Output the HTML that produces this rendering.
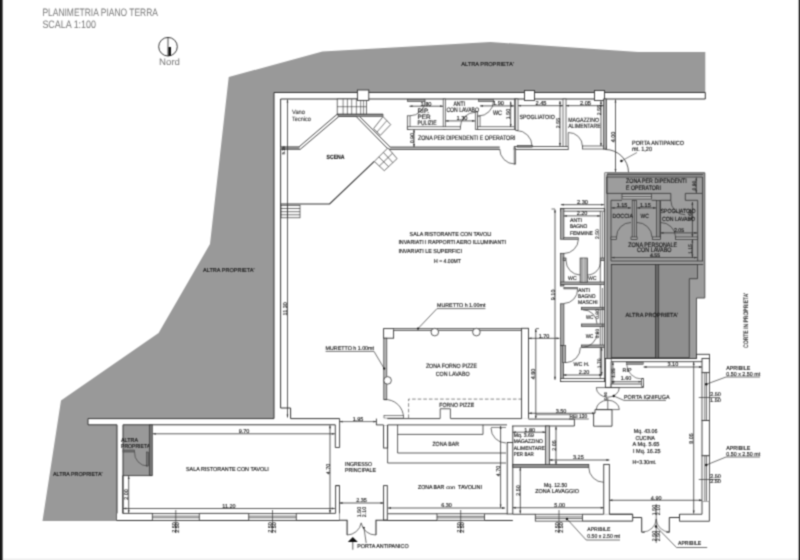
<!DOCTYPE html>
<html><head><meta charset="utf-8">
<style>
html,body{margin:0;padding:0;background:#fff;width:800px;height:560px;overflow:hidden}
svg{display:block}
text{font-family:"Liberation Sans",sans-serif;text-rendering:geometricPrecision}
</style></head><body>
<svg width="800" height="560" viewBox="0 0 800 560">
<defs><filter id="soft" filterUnits="userSpaceOnUse" x="0" y="0" width="800" height="560" color-interpolation-filters="sRGB"><feConvolveMatrix order="3" kernelMatrix="0.04 0.12 0.04 0.12 0.36 0.12 0.04 0.12 0.04" edgeMode="duplicate"/></filter></defs>
<g filter="url(#soft)">
<rect x="0" y="0" width="800" height="560" fill="#fff"/>
<rect x="2.5" y="558.6" width="797.5" height="1.4" fill="#eeeeee"/>
<rect x="0" y="0" width="2.6" height="560" fill="#161616"/>
<rect x="798.7" y="0" width="1.3" height="560" fill="#1c1c1c"/>
<text x="42.4" y="16.2" font-size="10.8" fill="#777" textLength="115.6" lengthAdjust="spacingAndGlyphs">PLANIMETRIA PIANO TERRA</text>
<text x="42.4" y="28.2" font-size="10.8" fill="#777" textLength="53.6" lengthAdjust="spacingAndGlyphs">SCALA 1:100</text>
<circle cx="168" cy="46.7" r="9.3" fill="none" stroke="#222" stroke-width="0.9"/>
<line x1="168" y1="37.4" x2="168" y2="56" stroke="#222" stroke-width="0.8"/>
<rect x="168.4" y="47" width="2.6" height="9" fill="#111"/>
<text x="159" y="64.6" font-size="9.4" fill="#777" textLength="21" lengthAdjust="spacingAndGlyphs">Nord</text>

<polygon points="228.75,77 322.5,51.6 490.5,42 638,52 705.3,52 705.3,92.5 274,92.5 274,418.6 88,418.6 88,425 117,425 117,521 42.5,521 61,400.5 158.6,333 210,244" fill="#999"/>
<rect x="123" y="424.8" width="27" height="50.5" fill="#999"/>
<g fill="#fff"><rect x="274" y="92.5" width="431.3" height="6.5"/><rect x="274" y="92.5" width="6.6" height="326.1"/><rect x="88" y="418.6" width="251.6" height="6.2"/><rect x="117" y="424" width="6" height="97"/></g>
<polyline points="274,418.6 274,92.5 705.3,92.5 705.3,99 606,99" fill="none" stroke="#333" stroke-width="1"/>
<polyline points="280.6,408 280.6,99 606,99" fill="none" stroke="#333" stroke-width="1"/>
<polyline points="280.6,408 290.6,408 290.6,418.6 339.6,418.6" fill="none" stroke="#333" stroke-width="1"/>
<polyline points="274,418.6 88,418.6 88,424.8 117,424.8 117,521" fill="none" stroke="#333" stroke-width="1"/>
<polyline points="123,521 123,424.8 335.3,424.8" fill="none" stroke="#333" stroke-width="1"/>
<rect x="337.2" y="99" width="29.2" height="15.3" fill="#fff" stroke="#333" stroke-width="0.7"/>
<path d="M343.1 99V114.3M347.4 99V114.3M351.7 99V114.3M356.4 99V114.3M360.7 99V114.3M363.6 99V114.3M337.2 106.7H366.4" fill="none" stroke="#333" stroke-width="0.6" />
<rect x="389.5" y="147.1" width="110.2" height="2.3" fill="#cfcfcf"/>
<path d="M280.6 146.9H299L337.2 114.2H383" fill="none" stroke="#333" stroke-width="0.9" />
<path d="M280.6 149.4H300.2L338.8 116.5H357" fill="none" stroke="#333" stroke-width="0.9" />
<path d="M359.6 116.5L390.2 147.1H499.7" fill="none" stroke="#333" stroke-width="0.9" />
<path d="M356.2 116.5L388.4 149.4H499.7" fill="none" stroke="#333" stroke-width="0.9" />
<rect x="280.6" y="146.8" width="18.9" height="2.7" fill="#8a8a8a"/>
<path d="M280.6 204H329.6L374.3 161.4" fill="none" stroke="#333" stroke-width="1.1" />
<rect x="338" y="114.3" width="45" height="2.2" fill="#999" stroke="#333" stroke-width="0.6"/>
<polygon points="383,116.6 390.7,124.6 380.3,135.4 373.6,128.6" fill="#fff" stroke="#333" stroke-width="0.7"/>
<path d="M377 132L386.8 120.6" fill="none" stroke="#333" stroke-width="0.6" />
<polygon points="387.9,147.9 397.1,158.6 384.3,170.7 374.3,161.4" fill="#fff" stroke="#333" stroke-width="0.7"/>
<path d="M378.8 156.9L388.6 166.7M383.4 152.4L392.8 162.6M392.5 153.25L379.3 166.05" fill="none" stroke="#333" stroke-width="0.7" />
<rect x="281" y="205.3" width="19" height="12.5" fill="#fff" stroke="#333" stroke-width="0.7"/>
<path d="M281 208.5H300M281 211.7H300M281 214.8H300M287.5 205.3V217.8" fill="none" stroke="#333" stroke-width="0.7" />
<rect x="357.4" y="90" width="11.4" height="10.4" fill="#fff" stroke="#333" stroke-width="0.9"/>
<rect x="524.5" y="90.5" width="10" height="10" fill="#fff" stroke="#333" stroke-width="0.9"/>
<rect x="594.5" y="90.5" width="10" height="10" fill="#fff" stroke="#333" stroke-width="0.9"/>
<line x1="287.5" y1="99.5" x2="287.5" y2="417.5" stroke="#333" stroke-width="0.8" />
<path d="M287.5 99.5l-0.9 3h1.8z M287.5 417.5l-0.9 -3h1.8z" fill="#333"/>
<text x="292" y="114.2" font-size="6.16" fill="#444" stroke="#444" stroke-width="0.14" textLength="13" lengthAdjust="spacingAndGlyphs">Vano</text>
<text x="292" y="120.6" font-size="6.16" fill="#444" stroke="#444" stroke-width="0.14" textLength="18.9" lengthAdjust="spacingAndGlyphs">Tecnico</text>
<text x="284.6" y="150.5" font-size="4.18" fill="#151515" stroke="#151515" stroke-width="0.14" text-anchor="middle" transform="rotate(-90 284.6 150.5)">5.15</text>
<text x="326.5" y="158.6" font-size="6.16" fill="#151515" stroke="#151515" stroke-width="0.14" textLength="18" lengthAdjust="spacingAndGlyphs" font-weight="bold">SCENA</text>
<rect x="407.3" y="99.3" width="17.7" height="2.3" fill="#aaa" stroke="#333" stroke-width="0.6"/>
<rect x="407.3" y="115.8" width="2.7" height="13.7" fill="#fff" stroke="#333" stroke-width="0.7"/>
<rect x="443.2" y="99" width="2.1" height="30.5" fill="#fff" stroke="#333" stroke-width="0.7"/>
<rect x="407.3" y="126.8" width="53" height="2.7" fill="#fff" stroke="#333" stroke-width="0.7"/>
<rect x="475.3" y="111.8" width="2.2" height="17.7" fill="#fff" stroke="#333" stroke-width="0.7"/>
<rect x="477.5" y="116" width="2.5" height="13.5" fill="#fff" stroke="#333" stroke-width="0.7"/>
<rect x="478.5" y="99.3" width="15" height="2.3" fill="#aaa" stroke="#333" stroke-width="0.6"/>
<rect x="477.5" y="126.8" width="38.7" height="2.7" fill="#fff" stroke="#333" stroke-width="0.7"/>
<rect x="514.4" y="99" width="1.8" height="30.5" fill="#fff" stroke="#333" stroke-width="0.7"/>
<rect x="515.7" y="99" width="2.3" height="31.5" fill="#fff" stroke="#333" stroke-width="0.7"/>
<rect x="563" y="99" width="3" height="50" fill="#fff" stroke="#333" stroke-width="0.7"/>
<rect x="514.2" y="146.6" width="54" height="3" fill="#fff" stroke="#333" stroke-width="0.8"/>
<rect x="517.2" y="145.3" width="15" height="1.9" fill="#777" stroke="#333" stroke-width="0.5"/>
<rect x="514.2" y="148" width="1.5" height="16" fill="#fff" stroke="#333" stroke-width="0.7"/>
<rect x="582.5" y="146" width="24" height="3" fill="#fff" stroke="#333" stroke-width="0.7"/>
<rect x="603.5" y="99" width="3" height="50" fill="#aaa" stroke="#333" stroke-width="0.7"/>
<path d="M410 115.8A15 15 0 0 0 425 100.8" fill="none" stroke="#333" stroke-width="0.7" />
<path d="M478.5 116A15 15 0 0 0 493.5 101" fill="none" stroke="#333" stroke-width="0.7" />
<path d="M460.3 127.3A15 15 0 0 1 475.3 112.3" fill="none" stroke="#333" stroke-width="0.7" />
<path d="M499.7 149A15 15 0 0 0 514.7 164" fill="none" stroke="#333" stroke-width="0.7" />
<path d="M516.5 130.5A15.5 15.5 0 0 1 532 146" fill="none" stroke="#333" stroke-width="0.7" />
<line x1="568.2" y1="132.7" x2="568.2" y2="146" stroke="#333" stroke-width="0.7" />
<path d="M568.2 132.5A14 14 0 0 1 582.5 146.5" fill="none" stroke="#333" stroke-width="0.7" />
<path d="M605.5 149.5A23 23 0 0 1 628.5 172.2" fill="none" stroke="#333" stroke-width="0.8" />
<line x1="409.5" y1="106.2" x2="443" y2="106.2" stroke="#333" stroke-width="0.8" />
<path d="M409.5 106.2l3 -0.9v1.8z M443 106.2l-3 -0.9v1.8z" fill="#333"/>
<text x="426" y="105.5" font-size="5.72" fill="#151515" stroke="#151515" stroke-width="0.14" text-anchor="middle">1.80</text>
<line x1="414" y1="129.5" x2="414" y2="147" stroke="#333" stroke-width="0.8" />
<path d="M414 129.5l-0.9 3h1.8z M414 147l-0.9 -3h1.8z" fill="#333"/>
<text x="413.6" y="138.2" font-size="5.28" fill="#151515" stroke="#151515" stroke-width="0.14" text-anchor="middle" transform="rotate(-90 413.6 138.2)">0.90</text>
<line x1="445.5" y1="120.9" x2="475" y2="120.9" stroke="#333" stroke-width="0.8" />
<path d="M445.5 120.9l3 -0.9v1.8z M475 120.9l-3 -0.9v1.8z" fill="#333"/>
<text x="462" y="120.2" font-size="5.72" fill="#151515" stroke="#151515" stroke-width="0.14" text-anchor="middle">1.30</text>
<line x1="480" y1="105.9" x2="514" y2="105.9" stroke="#333" stroke-width="0.8" />
<path d="M480 105.9l3 -0.9v1.8z M514 105.9l-3 -0.9v1.8z" fill="#333"/>
<text x="498.5" y="105.2" font-size="5.72" fill="#151515" stroke="#151515" stroke-width="0.14" text-anchor="middle">1.90</text>
<line x1="510.7" y1="101.5" x2="510.7" y2="127" stroke="#333" stroke-width="0.8" />
<path d="M510.7 101.5l-0.9 3h1.8z M510.7 127l-0.9 -3h1.8z" fill="#333"/>
<text x="510.3" y="114" font-size="5.28" fill="#151515" stroke="#151515" stroke-width="0.14" text-anchor="middle" transform="rotate(-90 510.3 114)">1.50</text>
<line x1="518" y1="105.7" x2="563" y2="105.7" stroke="#333" stroke-width="0.8" />
<path d="M518 105.7l3 -0.9v1.8z M563 105.7l-3 -0.9v1.8z" fill="#333"/>
<text x="541" y="105.0" font-size="5.72" fill="#151515" stroke="#151515" stroke-width="0.14" text-anchor="middle">2.45</text>
<line x1="560" y1="101" x2="560" y2="146" stroke="#333" stroke-width="0.8" />
<path d="M560 101l-0.9 3h1.8z M560 146l-0.9 -3h1.8z" fill="#333"/>
<text x="559.6" y="123" font-size="5.28" fill="#151515" stroke="#151515" stroke-width="0.14" text-anchor="middle" transform="rotate(-90 559.6 123)">2.55</text>
<line x1="566" y1="105.7" x2="603.5" y2="105.7" stroke="#333" stroke-width="0.8" />
<path d="M566 105.7l3 -0.9v1.8z M603.5 105.7l-3 -0.9v1.8z" fill="#333"/>
<text x="585.5" y="105.0" font-size="5.72" fill="#151515" stroke="#151515" stroke-width="0.14" text-anchor="middle">2.05</text>
<line x1="601" y1="101" x2="601" y2="146" stroke="#333" stroke-width="0.8" />
<path d="M601 101l-0.9 3h1.8z M601 146l-0.9 -3h1.8z" fill="#333"/>
<text x="600.6" y="110" font-size="5.28" fill="#151515" stroke="#151515" stroke-width="0.14" text-anchor="middle" transform="rotate(-90 600.6 110)">2.55</text>
<line x1="615.5" y1="99.5" x2="615.5" y2="172" stroke="#333" stroke-width="0.8" />
<path d="M615.5 99.5l-0.9 3h1.8z M615.5 172l-0.9 -3h1.8z" fill="#333"/>
<text x="615.1" y="137" font-size="5.5" fill="#151515" stroke="#151515" stroke-width="0.14" text-anchor="middle" transform="rotate(-90 615.1 137)">4.00</text>
<text x="417.5" y="112.6" font-size="6.38" fill="#151515" stroke="#151515" stroke-width="0.14">RIP.</text>
<text x="417.5" y="118.8" font-size="6.38" fill="#151515" stroke="#151515" stroke-width="0.14">PER</text>
<text x="417.5" y="124.7" font-size="6.38" fill="#151515" stroke="#151515" stroke-width="0.14" textLength="19.2" lengthAdjust="spacingAndGlyphs">PULIZIE</text>
<text x="453.4" y="105.7" font-size="6.38" fill="#151515" stroke="#151515" stroke-width="0.14" textLength="11.8" lengthAdjust="spacingAndGlyphs">ANTI</text>
<text x="446.4" y="111.8" font-size="6.38" fill="#151515" stroke="#151515" stroke-width="0.14" textLength="32.6" lengthAdjust="spacingAndGlyphs">CON LAVABO</text>
<text x="493" y="115.3" font-size="6.38" fill="#151515" stroke="#151515" stroke-width="0.14" textLength="9" lengthAdjust="spacingAndGlyphs">WC</text>
<text x="418" y="140.2" font-size="6.49" fill="#151515" stroke="#151515" stroke-width="0.14" textLength="97.5" lengthAdjust="spacingAndGlyphs">ZONA PER DIPENDENTI E OPERATORI</text>
<text x="519.5" y="119.2" font-size="6.16" fill="#151515" stroke="#151515" stroke-width="0.14" textLength="35.2" lengthAdjust="spacingAndGlyphs">SPOGLIATOIO</text>
<text x="568.2" y="121.8" font-size="6.16" fill="#151515" stroke="#151515" stroke-width="0.14" textLength="30.8" lengthAdjust="spacingAndGlyphs">MAGAZZINO</text>
<text x="568.2" y="128.2" font-size="6.16" fill="#151515" stroke="#151515" stroke-width="0.14" textLength="32.5" lengthAdjust="spacingAndGlyphs">ALIMENTARE</text>
<text x="632" y="144.5" font-size="6.16" fill="#151515" stroke="#151515" stroke-width="0.14" textLength="52" lengthAdjust="spacingAndGlyphs">PORTA ANTIPANICO</text>
<text x="632" y="151" font-size="6.16" fill="#151515" stroke="#151515" stroke-width="0.14" textLength="20" lengthAdjust="spacingAndGlyphs">mt. 1,20</text>
<line x1="637" y1="152.5" x2="621.4" y2="161" stroke="#333" stroke-width="0.6" />
<circle cx="621.4" cy="161" r="1.2" fill="#111"/>
<polygon points="604.8,172.8 704.8,172.8 704.8,298 696.5,298 696.5,358.5 604.8,358.5" fill="#9d9d9d" stroke="#444" stroke-width="0.9"/>
<rect x="604.8" y="172.8" width="2.2" height="185.7" fill="#d2d2d2"/>
<line x1="607" y1="174.6" x2="607" y2="358.5" stroke="#333" stroke-width="0.8" />
<line x1="607" y1="174.6" x2="703" y2="174.6" stroke="#333" stroke-width="0.8" />
<polyline points="670.8,193.4 606.6,193.4 606.6,177 702.5,177 702.5,193.4 685.3,193.4" fill="none" stroke="#333" stroke-width="0.8"/>
<rect x="622" y="194" width="29.6" height="5" fill="#bbb" stroke="#333" stroke-width="0.7"/>
<line x1="622" y1="196.5" x2="651.6" y2="196.5" stroke="#333" stroke-width="0.7" />
<polyline points="670.8,193.4 670.8,200.3 660.5,200.3 660.5,239" fill="none" stroke="#333" stroke-width="0.8"/>
<polyline points="622,200.3 611,200.3 611,261" fill="none" stroke="#333" stroke-width="0.8"/>
<line x1="651.6" y1="200.3" x2="656" y2="200.3" stroke="#333" stroke-width="0.8" />
<polyline points="685.3,193.4 685.3,200.3 697.7,200.3 697.7,261" fill="none" stroke="#333" stroke-width="0.8"/>
<polyline points="702.5,193.4 702.5,261" fill="none" stroke="#333" stroke-width="0.8"/>
<rect x="632.2" y="200.3" width="4.4" height="38.7" fill="#a4a4a4" stroke="#333" stroke-width="0.7"/>
<line x1="634.4" y1="200.3" x2="634.4" y2="239" stroke="#333" stroke-width="0.7" />
<rect x="656.4" y="200.3" width="3.5" height="38.7" fill="#a4a4a4" stroke="#333" stroke-width="0.7"/>
<line x1="658.1" y1="200.3" x2="658.1" y2="239" stroke="#333" stroke-width="0.4" />
<rect x="611" y="237" width="5.5" height="2.5" fill="#aaa" stroke="#333" stroke-width="0.7"/>
<rect x="631" y="237" width="6.100000000000023" height="2.5" fill="#aaa" stroke="#333" stroke-width="0.7"/>
<rect x="652.3" y="237" width="8.200000000000045" height="2.5" fill="#aaa" stroke="#333" stroke-width="0.7"/>
<rect x="675.6" y="237" width="22.100000000000023" height="2.5" fill="#aaa" stroke="#333" stroke-width="0.7"/>
<path d="M616.5 237A14.5 14.5 0 0 1 631 222.5" fill="none" stroke="#333" stroke-width="0.7" />
<path d="M637 222.5A15 15 0 0 1 652 237" fill="none" stroke="#333" stroke-width="0.7" />
<path d="M660.5 222.5A15 15 0 0 1 675.6 237" fill="none" stroke="#333" stroke-width="0.7" />
<path d="M670.8 200.3A14.5 14.5 0 0 0 685.3 214.8" fill="none" stroke="#333" stroke-width="0.7" />
<line x1="611" y1="261" x2="703.2" y2="261" stroke="#333" stroke-width="0.8" />
<line x1="611" y1="264.5" x2="703.2" y2="264.5" stroke="#333" stroke-width="0.8" />
<line x1="611.5" y1="257.6" x2="697.2" y2="257.6" stroke="#333" stroke-width="0.8" />
<path d="M611.5 257.6l3 -0.9v1.8z M697.2 257.6l-3 -0.9v1.8z" fill="#333"/>
<text x="655" y="256.9" font-size="5.28" fill="#151515" stroke="#151515" stroke-width="0.14" text-anchor="middle">4.55</text>
<line x1="692.4" y1="239.5" x2="692.4" y2="257.6" stroke="#333" stroke-width="0.8" />
<path d="M692.4 239.5l-0.9 3h1.8z M692.4 257.6l-0.9 -3h1.8z" fill="#333"/>
<text x="692.0" y="249" font-size="5.06" fill="#151515" stroke="#151515" stroke-width="0.14" text-anchor="middle" transform="rotate(-90 692.0 249)">1.15</text>
<line x1="660.5" y1="232.9" x2="697.2" y2="232.9" stroke="#333" stroke-width="0.8" />
<path d="M660.5 232.9l3 -0.9v1.8z M697.2 232.9l-3 -0.9v1.8z" fill="#333"/>
<text x="679" y="232.2" font-size="5.28" fill="#151515" stroke="#151515" stroke-width="0.14" text-anchor="middle">2.05</text>
<line x1="611.5" y1="207.9" x2="631" y2="207.9" stroke="#333" stroke-width="0.8" />
<path d="M611.5 207.9l3 -0.9v1.8z M631 207.9l-3 -0.9v1.8z" fill="#333"/>
<text x="622" y="207.2" font-size="5.5" fill="#151515" stroke="#151515" stroke-width="0.14" text-anchor="middle">1.15</text>
<line x1="637.1" y1="207.9" x2="656" y2="207.9" stroke="#333" stroke-width="0.8" />
<path d="M637.1 207.9l3 -0.9v1.8z M656 207.9l-3 -0.9v1.8z" fill="#333"/>
<text x="645.4" y="207.2" font-size="5.5" fill="#151515" stroke="#151515" stroke-width="0.14" text-anchor="middle">1.15</text>
<line x1="696.3" y1="177.5" x2="696.3" y2="193" stroke="#333" stroke-width="0.8" />
<path d="M696.3 177.5l-0.9 3h1.8z M696.3 193l-0.9 -3h1.8z" fill="#333"/>
<text x="695.9" y="185.5" font-size="5.06" fill="#151515" stroke="#151515" stroke-width="0.14" text-anchor="middle" transform="rotate(-90 695.9 185.5)">0.90</text>
<line x1="692.4" y1="202" x2="692.4" y2="237" stroke="#333" stroke-width="0.8" />
<path d="M692.4 202l-0.9 3h1.8z M692.4 237l-0.9 -3h1.8z" fill="#333"/>
<text x="692.0" y="215" font-size="5.06" fill="#151515" stroke="#151515" stroke-width="0.14" text-anchor="middle" transform="rotate(-90 692.0 215)">1.60</text>
<rect x="611.3" y="264.5" width="44.4" height="93.2" fill="#8f8f8f" stroke="#333" stroke-width="0.8"/>
<polygon points="658.5,264.5 697.5,264.5 697.5,278.7 689.3,278.7 689.3,357.7 658.5,357.7" fill="#8f8f8f" stroke="#333" stroke-width="0.8"/>
<rect x="655.4" y="264.5" width="3.4" height="93.2" fill="#6a6a6a" stroke="#333" stroke-width="0.6"/>
<text x="626" y="183.4" font-size="6.38" fill="#151515" stroke="#151515" stroke-width="0.14" textLength="60.7" lengthAdjust="spacingAndGlyphs">ZONA PER DIPENDENTI</text>
<text x="626" y="190" font-size="6.38" fill="#151515" stroke="#151515" stroke-width="0.14" textLength="35" lengthAdjust="spacingAndGlyphs">E OPERATORI</text>
<text x="612.4" y="218.2" font-size="5.94" fill="#151515" stroke="#151515" stroke-width="0.14" textLength="20.6" lengthAdjust="spacingAndGlyphs">DOCCIA</text>
<text x="640.6" y="218" font-size="5.94" fill="#151515" stroke="#151515" stroke-width="0.14" textLength="8.2" lengthAdjust="spacingAndGlyphs">WC</text>
<text x="660.5" y="213.4" font-size="5.94" fill="#151515" stroke="#151515" stroke-width="0.14" textLength="35" lengthAdjust="spacingAndGlyphs">SPOGLIATOIO</text>
<text x="662" y="220.5" font-size="5.94" fill="#151515" stroke="#151515" stroke-width="0.14" textLength="33" lengthAdjust="spacingAndGlyphs">CON LAVABO</text>
<text x="628.2" y="246.9" font-size="6.38" fill="#151515" stroke="#151515" stroke-width="0.14" textLength="48.8" lengthAdjust="spacingAndGlyphs">ZONA PERSONALE</text>
<text x="637.1" y="252.4" font-size="6.38" fill="#151515" stroke="#151515" stroke-width="0.14" textLength="34.4" lengthAdjust="spacingAndGlyphs">CON LAVABO</text>
<text x="625.6" y="317" font-size="5.94" fill="#151515" stroke="#151515" stroke-width="0.14" textLength="52.4" lengthAdjust="spacingAndGlyphs">ALTRA  PROPRIETA'</text>
<text x="461.25" y="65.75" font-size="5.72" fill="#151515" stroke="#151515" stroke-width="0.14" textLength="52.5" lengthAdjust="spacingAndGlyphs">ALTRA  PROPRIETA'</text>
<text x="203" y="271.75" font-size="5.72" fill="#151515" stroke="#151515" stroke-width="0.14" textLength="51.5" lengthAdjust="spacingAndGlyphs">ALTRA  PROPRIETA'</text>
<text x="53" y="475.5" font-size="5.72" fill="#151515" stroke="#151515" stroke-width="0.14" textLength="49.5" lengthAdjust="spacingAndGlyphs">ALTRA  PROPRIETA'</text>
<text x="121" y="441.5" font-size="5.72" fill="#151515" stroke="#151515" stroke-width="0.14" textLength="17" lengthAdjust="spacingAndGlyphs">ALTRA</text>
<text x="121" y="447.75" font-size="5.72" fill="#151515" stroke="#151515" stroke-width="0.14" textLength="30" lengthAdjust="spacingAndGlyphs">PROPRIETA'</text>
<text x="409.6" y="235.6" font-size="5.72" fill="#151515" stroke="#151515" stroke-width="0.14" textLength="82" lengthAdjust="spacingAndGlyphs">SALA RISTORANTE CON TAVOLI</text>
<text x="398.4" y="244.2" font-size="5.72" fill="#151515" stroke="#151515" stroke-width="0.14" textLength="107.6" lengthAdjust="spacingAndGlyphs">INVARIATI I RAPPORTI AERO ILLUMINANTI</text>
<text x="398.4" y="253.2" font-size="5.72" fill="#151515" stroke="#151515" stroke-width="0.14" textLength="63.6" lengthAdjust="spacingAndGlyphs">INVARIATI LE SUPERFICI</text>
<text x="434" y="262.8" font-size="5.72" fill="#151515" stroke="#151515" stroke-width="0.14" textLength="27" lengthAdjust="spacingAndGlyphs">H = 4.00MT</text>
<text x="287.1" y="308.75" font-size="5.5" fill="#151515" stroke="#151515" stroke-width="0.14" text-anchor="middle" transform="rotate(-90 287.1 308.75)">11.30</text>
<rect x="383.6" y="328.6" width="10" height="9.6" fill="#fff" stroke="#333" stroke-width="0.9"/>
<path d="M393.6 329.5H522" fill="none" stroke="#333" stroke-width="2.4" stroke-linejoin="miter" stroke-linecap="butt"/>
<path d="M393.6 329.5H522" fill="none" stroke="#fff" stroke-width="0.8" stroke-linejoin="miter" stroke-linecap="butt"/>
<rect x="383.8" y="338.2" width="3" height="61.5" fill="#bbb" stroke="#333" stroke-width="0.7"/>
<circle cx="434.8" cy="332.1" r="3.8" fill="#fff" stroke="#333" stroke-width="0.8"/>
<circle cx="476.4" cy="332.1" r="3.8" fill="#fff" stroke="#333" stroke-width="0.8"/>
<circle cx="387.6" cy="380.4" r="3.8" fill="#fff" stroke="#333" stroke-width="0.8"/>
<rect x="521.6" y="328.3" width="6.9" height="91" fill="#fff" stroke="#333" stroke-width="0.9"/>
<path d="M384 399.6A18 18 0 0 1 403.5 417.5" fill="none" stroke="#333" stroke-width="0.7" />
<rect x="384" y="415.5" width="19.5" height="2.6" fill="#fff" stroke="#333" stroke-width="0.6"/>
<path d="M408.6 418V399.1H522" fill="none" stroke="#333" stroke-width="0.6" stroke-dasharray="3.6 2"/>
<path d="M440.2 418.6V408.75H450.4V418.6" fill="none" stroke="#333" stroke-width="0.8" />
<text x="439.3" y="406.6" font-size="5.94" fill="#151515" stroke="#151515" stroke-width="0.14" textLength="34.8" lengthAdjust="spacingAndGlyphs">FORNO PIZZE</text>
<text x="425.9" y="368.2" font-size="6.05" fill="#151515" stroke="#151515" stroke-width="0.14" textLength="51.2" lengthAdjust="spacingAndGlyphs">ZONA FORNO PIZZE</text>
<text x="435.7" y="376.25" font-size="6.05" fill="#151515" stroke="#151515" stroke-width="0.14" textLength="33.9" lengthAdjust="spacingAndGlyphs">CON LAVABO</text>
<text x="325.6" y="350.2" font-size="5.5" fill="#151515" stroke="#151515" stroke-width="0.14" textLength="48.4" lengthAdjust="spacingAndGlyphs">MURETTO h 1.00mt</text>
<line x1="325.6" y1="351.4" x2="374" y2="351.4" stroke="#333" stroke-width="0.7" />
<line x1="374" y1="351.4" x2="384.2" y2="368.6" stroke="#333" stroke-width="0.7" />
<circle cx="384.2" cy="368.6" r="1.1" fill="#111"/>
<text x="437" y="307.4" font-size="5.5" fill="#151515" stroke="#151515" stroke-width="0.14" textLength="48.4" lengthAdjust="spacingAndGlyphs">MURETTO h 1.00mt</text>
<line x1="437" y1="308.6" x2="485.4" y2="308.6" stroke="#333" stroke-width="0.7" />
<line x1="437" y1="308.6" x2="418" y2="328.6" stroke="#333" stroke-width="0.7" />
<circle cx="418" cy="328.6" r="1.1" fill="#111"/>
<line x1="535.8" y1="329" x2="535.8" y2="418.8" stroke="#333" stroke-width="0.8" />
<path d="M535.8 329l-0.9 3h1.8z M535.8 418.8l-0.9 -3h1.8z" fill="#333"/>
<text x="535.4" y="374" font-size="5.5" fill="#151515" stroke="#151515" stroke-width="0.14" text-anchor="middle" transform="rotate(-90 535.4 374)">4.80</text>
<line x1="535.8" y1="328.6" x2="539" y2="328.6" stroke="#333" stroke-width="0.7" />
<line x1="528.5" y1="338.3" x2="559.5" y2="338.3" stroke="#333" stroke-width="0.8" />
<path d="M528.5 338.3l3 -0.9v1.8z M559.5 338.3l-3 -0.9v1.8z" fill="#333"/>
<text x="544" y="337.6" font-size="5.5" fill="#151515" stroke="#151515" stroke-width="0.14" text-anchor="middle">1.70</text>
<line x1="555" y1="209.5" x2="555" y2="379.8" stroke="#333" stroke-width="0.8" />
<path d="M555 209.5l-0.9 3h1.8z M555 379.8l-0.9 -3h1.8z" fill="#333"/>
<text x="554.6" y="294.9" font-size="5.5" fill="#151515" stroke="#151515" stroke-width="0.14" text-anchor="middle" transform="rotate(-90 554.6 294.9)">9.10</text>
<line x1="551.5" y1="209" x2="555" y2="209" stroke="#333" stroke-width="0.7" />
<line x1="560.9" y1="204.7" x2="604.1" y2="204.7" stroke="#333" stroke-width="0.8" />
<path d="M560.9 204.7l3 -0.9v1.8z M604.1 204.7l-3 -0.9v1.8z" fill="#333"/>
<text x="582.5" y="204.0" font-size="5.72" fill="#151515" stroke="#151515" stroke-width="0.14" text-anchor="middle">2.30</text>
<rect x="560.4" y="208.6" width="44.2" height="2.5" fill="#fff" stroke="#333" stroke-width="0.8"/>
<rect x="560.6" y="208.6" width="3.3" height="30.599999999999994" fill="#aaa" stroke="#333" stroke-width="0.7"/>
<rect x="560.6" y="253.3" width="3.3" height="32.69999999999999" fill="#aaa" stroke="#333" stroke-width="0.7"/>
<rect x="560.6" y="303.8" width="3.3" height="41.69999999999999" fill="#aaa" stroke="#333" stroke-width="0.7"/>
<rect x="560.6" y="345.5" width="3" height="36" fill="#aaa" stroke="#333" stroke-width="0.7"/>
<rect x="562.7" y="345.6" width="3" height="17.1" fill="#aaa" stroke="#333" stroke-width="0.6"/>
<line x1="600.3" y1="211.1" x2="600.3" y2="381.6" stroke="#333" stroke-width="0.7" />
<line x1="604.6" y1="208.6" x2="604.6" y2="381.6" stroke="#333" stroke-width="0.8" />
<rect x="563.9" y="237.7" width="14.5" height="1.7" fill="#aaa" stroke="#333" stroke-width="0.6"/>
<rect x="560.7" y="282" width="43.9" height="2.6" fill="#aaa" stroke="#333" stroke-width="0.7"/>
<rect x="563.9" y="287.6" width="13.7" height="1.3" fill="#aaa" stroke="#333" stroke-width="0.6"/>
<rect x="580.1" y="258" width="7.3" height="24.2" fill="#aaa" stroke="#333" stroke-width="0.7"/>
<line x1="583.7" y1="258" x2="583.7" y2="282" stroke="#eee" stroke-width="0.5" />
<rect x="563.2" y="258" width="2.8" height="2.6" fill="#aaa" stroke="#333" stroke-width="0.7"/>
<rect x="600.3" y="258" width="4.3" height="2.6" fill="#aaa" stroke="#333" stroke-width="0.7"/>
<rect x="581.4" y="307.3" width="23.2" height="2.4" fill="#aaa" stroke="#333" stroke-width="0.7"/>
<rect x="581.4" y="324" width="23.2" height="2.4" fill="#aaa" stroke="#333" stroke-width="0.7"/>
<rect x="581.4" y="345" width="23.2" height="2.4" fill="#aaa" stroke="#333" stroke-width="0.7"/>
<rect x="560.4" y="378.6" width="44.2" height="3" fill="#fff" stroke="#333" stroke-width="0.8"/>
<path d="M578.4 239.4A14.5 14.5 0 0 1 563.9 253.5" fill="none" stroke="#333" stroke-width="0.7" />
<path d="M566 260.6A14.4 14.4 0 0 0 580.1 275" fill="none" stroke="#333" stroke-width="0.7" />
<path d="M600.3 260.6A13 13 0 0 1 587.4 275" fill="none" stroke="#333" stroke-width="0.7" />
<path d="M577.6 288.9A14 14 0 0 1 563.9 303.5" fill="none" stroke="#333" stroke-width="0.7" />
<path d="M583 309.8A14 14 0 0 1 597 323.8" fill="none" stroke="#333" stroke-width="0.7" />
<path d="M582.2 347.4A15 15 0 0 0 597.2 333" fill="none" stroke="#333" stroke-width="0.7" />
<path d="M565.7 362.7A15 15 0 0 0 580.4 347.4" fill="none" stroke="#333" stroke-width="0.7" />
<line x1="563.9" y1="215.9" x2="600.3" y2="215.9" stroke="#333" stroke-width="0.8" />
<path d="M563.9 215.9l3 -0.9v1.8z M600.3 215.9l-3 -0.9v1.8z" fill="#333"/>
<text x="582" y="215.2" font-size="5.5" fill="#151515" stroke="#151515" stroke-width="0.14" text-anchor="middle">2.20</text>
<text x="598.6" y="234" font-size="5.06" fill="#151515" stroke="#151515" stroke-width="0.14" text-anchor="middle" transform="rotate(-90 598.6 234)">2.50</text>
<line x1="602.4" y1="212" x2="602.4" y2="258" stroke="#333" stroke-width="0.7" />
<line x1="563.3" y1="375" x2="602.2" y2="375" stroke="#333" stroke-width="0.8" />
<path d="M563.3 375l3 -0.9v1.8z M602.2 375l-3 -0.9v1.8z" fill="#333"/>
<text x="584" y="374.3" font-size="5.5" fill="#151515" stroke="#151515" stroke-width="0.14" text-anchor="middle">2.20</text>
<line x1="601.7" y1="347.4" x2="601.7" y2="375" stroke="#333" stroke-width="0.8" />
<path d="M601.7 347.4l-0.9 3h1.8z M601.7 375l-0.9 -3h1.8z" fill="#333"/>
<text x="601.3" y="363.3" font-size="5.06" fill="#151515" stroke="#151515" stroke-width="0.14" text-anchor="middle" transform="rotate(-90 601.3 363.3)">1.70</text>
<line x1="602.4" y1="288" x2="602.4" y2="345" stroke="#333" stroke-width="0.7" />
<text x="569.9" y="221.9" font-size="5.5" fill="#151515" stroke="#151515" stroke-width="0.14" textLength="12" lengthAdjust="spacingAndGlyphs">ANTI</text>
<text x="569.9" y="228.3" font-size="5.5" fill="#151515" stroke="#151515" stroke-width="0.14" textLength="17.5" lengthAdjust="spacingAndGlyphs">BAGNO</text>
<text x="569.9" y="234.7" font-size="5.5" fill="#151515" stroke="#151515" stroke-width="0.14" textLength="23" lengthAdjust="spacingAndGlyphs">FEMMINE</text>
<text x="568.1" y="280.3" font-size="5.5" fill="#151515" stroke="#151515" stroke-width="0.14" textLength="8.6" lengthAdjust="spacingAndGlyphs">WC</text>
<text x="588.3" y="280.3" font-size="5.5" fill="#151515" stroke="#151515" stroke-width="0.14" textLength="8.1" lengthAdjust="spacingAndGlyphs">WC</text>
<text x="578" y="291.6" font-size="5.5" fill="#151515" stroke="#151515" stroke-width="0.14" textLength="12" lengthAdjust="spacingAndGlyphs">ANTI</text>
<text x="578" y="297.9" font-size="5.5" fill="#151515" stroke="#151515" stroke-width="0.14" textLength="17.5" lengthAdjust="spacingAndGlyphs">BAGNO</text>
<text x="578" y="303.9" font-size="5.5" fill="#151515" stroke="#151515" stroke-width="0.14" textLength="19.7" lengthAdjust="spacingAndGlyphs">MASCHI</text>
<text x="586.1" y="319.3" font-size="5.5" fill="#151515" stroke="#151515" stroke-width="0.14" textLength="7.3" lengthAdjust="spacingAndGlyphs">WC</text>
<text x="585.7" y="337.9" font-size="5.5" fill="#151515" stroke="#151515" stroke-width="0.14" textLength="7.5" lengthAdjust="spacingAndGlyphs">WC</text>
<text x="573.4" y="366.2" font-size="5.5" fill="#151515" stroke="#151515" stroke-width="0.14" textLength="15.9" lengthAdjust="spacingAndGlyphs">WC  H.</text>
<text x="599.3" y="314" font-size="4.84" fill="#151515" stroke="#151515" stroke-width="0.14" text-anchor="middle" transform="rotate(-90 599.3 314)">0.80</text>
<text x="599.3" y="333.5" font-size="4.84" fill="#151515" stroke="#151515" stroke-width="0.14" text-anchor="middle" transform="rotate(-90 599.3 333.5)">0.80</text>
<rect x="117" y="513.4" width="223" height="7.1" fill="#fff"/>
<line x1="117" y1="520.5" x2="340" y2="520.5" stroke="#333" stroke-width="1" />
<line x1="122.8" y1="475.6" x2="122.8" y2="513.4" stroke="#333" stroke-width="0.9" />
<line x1="122.8" y1="513.4" x2="152.3" y2="513.4" stroke="#333" stroke-width="0.9" />
<rect x="152.3" y="513.4" width="46.94999999999999" height="7.100000000000023" fill="#fff" stroke="#333" stroke-width="0.8"/>
<line x1="152.3" y1="516.098" x2="199.25" y2="516.098" stroke="#333" stroke-width="0.7" />
<line x1="152.3" y1="517.802" x2="199.25" y2="517.802" stroke="#333" stroke-width="0.7" />
<line x1="199.25" y1="513.4" x2="248.75" y2="513.4" stroke="#333" stroke-width="0.9" />
<rect x="248.75" y="513.4" width="47.5" height="7.100000000000023" fill="#fff" stroke="#333" stroke-width="0.8"/>
<line x1="248.75" y1="516.098" x2="296.25" y2="516.098" stroke="#333" stroke-width="0.7" />
<line x1="248.75" y1="517.802" x2="296.25" y2="517.802" stroke="#333" stroke-width="0.7" />
<line x1="296.25" y1="513.4" x2="335.5" y2="513.4" stroke="#333" stroke-width="0.9" />
<polyline points="335.3,424.8 335.3,447.5 339.6,447.5 339.6,418.6" fill="none" stroke="#333" stroke-width="0.9"/>
<polyline points="335.6,513.4 335.6,485.6 339.5,485.6 339.5,520.5" fill="none" stroke="#333" stroke-width="0.9"/>
<rect x="149.3" y="424.9" width="3" height="50.7" fill="#777" stroke="#333" stroke-width="0.7"/>
<line x1="122.8" y1="475.6" x2="152.3" y2="475.6" stroke="#333" stroke-width="0.9" />
<rect x="123" y="450" width="11.6" height="2" fill="#777" stroke="#333" stroke-width="0.5"/>
<rect x="146.5" y="452" width="2" height="14" fill="#777" stroke="#333" stroke-width="0.5"/>
<path d="M134.6 452A13 13 0 0 0 147.5 466" fill="none" stroke="#333" stroke-width="0.6" />
<line x1="152.8" y1="433.8" x2="334.8" y2="433.8" stroke="#333" stroke-width="0.8" />
<path d="M152.8 433.8l3 -0.9v1.8z M334.8 433.8l-3 -0.9v1.8z" fill="#333"/>
<text x="244" y="433.1" font-size="5.5" fill="#151515" stroke="#151515" stroke-width="0.14" text-anchor="middle">9.70</text>
<line x1="123.3" y1="508.5" x2="334.8" y2="508.5" stroke="#333" stroke-width="0.8" />
<path d="M123.3 508.5l3 -0.9v1.8z M334.8 508.5l-3 -0.9v1.8z" fill="#333"/>
<text x="229" y="507.8" font-size="5.5" fill="#151515" stroke="#151515" stroke-width="0.14" text-anchor="middle">11.20</text>
<line x1="330" y1="425.3" x2="330" y2="513" stroke="#333" stroke-width="0.8" />
<path d="M330 425.3l-0.9 3h1.8z M330 513l-0.9 -3h1.8z" fill="#333"/>
<text x="329.6" y="469" font-size="5.28" fill="#151515" stroke="#151515" stroke-width="0.14" text-anchor="middle" transform="rotate(-90 329.6 469)">4.70</text>
<line x1="128.7" y1="476" x2="128.7" y2="513" stroke="#333" stroke-width="0.8" />
<path d="M128.7 476l-0.9 3h1.8z M128.7 513l-0.9 -3h1.8z" fill="#333"/>
<text x="128.3" y="494.5" font-size="5.28" fill="#151515" stroke="#151515" stroke-width="0.14" text-anchor="middle" transform="rotate(-90 128.3 494.5)">2.00</text>
<text x="186" y="470.5" font-size="5.72" fill="#151515" stroke="#151515" stroke-width="0.14" textLength="82.75" lengthAdjust="spacingAndGlyphs">SALA RISTORANTE CON TAVOLI</text>
<line x1="175.8" y1="510" x2="175.8" y2="533" stroke="#333" stroke-width="0.7" />
<text x="175.60000000000002" y="527.5" font-size="5.5" fill="#151515" stroke="#151515" stroke-width="0.14" text-anchor="middle" transform="rotate(-90 175.60000000000002 527.5)">2.50</text>
<text x="179.4" y="527.5" font-size="5.5" fill="#151515" stroke="#151515" stroke-width="0.14" text-anchor="middle" transform="rotate(-90 179.4 527.5)">2.50</text>
<line x1="272.5" y1="510" x2="272.5" y2="533" stroke="#333" stroke-width="0.7" />
<text x="272.3" y="527.5" font-size="5.5" fill="#151515" stroke="#151515" stroke-width="0.14" text-anchor="middle" transform="rotate(-90 272.3 527.5)">2.50</text>
<text x="276.1" y="527.5" font-size="5.5" fill="#151515" stroke="#151515" stroke-width="0.14" text-anchor="middle" transform="rotate(-90 276.1 527.5)">2.50</text>
<rect x="339.5" y="513.4" width="44" height="7.1" fill="#fff"/>
<polyline points="335.6,485.6 339.5,485.6" fill="none" stroke="#333" stroke-width="0.9"/>
<rect x="383.6" y="485.6" width="3.7" height="34.6" fill="#fff" stroke="#333" stroke-width="0.9"/>
<rect x="383.6" y="424.8" width="4" height="23.2" fill="#fff" stroke="#333" stroke-width="0.9"/>
<polyline points="339.5,520.2 347.1,520.2 347.1,535" fill="none" stroke="#333" stroke-width="1.1"/>
<polyline points="387.3,520.2 376,520.2 376,535" fill="none" stroke="#333" stroke-width="1.1"/>
<path d="M347.1 535A14.5 14.5 0 0 0 361.2 522.9" fill="none" stroke="#333" stroke-width="0.7" />
<path d="M376 535A14.5 14.5 0 0 1 361.2 522.9" fill="none" stroke="#333" stroke-width="0.7" />
<line x1="339.5" y1="503" x2="383.6" y2="503" stroke="#333" stroke-width="0.8" />
<path d="M339.5 503l3 -0.9v1.8z M383.6 503l-3 -0.9v1.8z" fill="#333"/>
<text x="361.5" y="502.3" font-size="5.5" fill="#151515" stroke="#151515" stroke-width="0.14" text-anchor="middle">2.35</text>
<text x="361.3" y="512" font-size="5.28" fill="#151515" stroke="#151515" stroke-width="0.14" text-anchor="middle" transform="rotate(-90 361.3 512)">1.50</text>
<text x="365.8" y="512" font-size="5.28" fill="#151515" stroke="#151515" stroke-width="0.14" text-anchor="middle" transform="rotate(-90 365.8 512)">2.10</text>
<path d="M347.8 542L352.8 537L357.8 542Z" fill="#111"/>
<line x1="352.8" y1="542" x2="352.8" y2="549.7" stroke="#333" stroke-width="0.8" />
<circle cx="363.9" cy="527.6" r="0.9" fill="#111"/>
<line x1="363.9" y1="527.6" x2="366.2" y2="543" stroke="#333" stroke-width="0.7" />
<text x="357.2" y="548.4" font-size="5.72" fill="#151515" stroke="#151515" stroke-width="0.14" textLength="51.5" lengthAdjust="spacingAndGlyphs">PORTA ANTIPANICO</text>
<text x="345" y="465.6" font-size="5.72" fill="#151515" stroke="#151515" stroke-width="0.14" textLength="27" lengthAdjust="spacingAndGlyphs">INGRESSO</text>
<text x="345" y="471.6" font-size="5.72" fill="#151515" stroke="#151515" stroke-width="0.14" textLength="31" lengthAdjust="spacingAndGlyphs">PRINCIPALE</text>
<line x1="339.6" y1="421.6" x2="376.4" y2="421.6" stroke="#333" stroke-width="0.7" />
<path d="M339.6 421.6l3 -0.9v1.8z M376.4 421.6l-3 -0.9v1.8z" fill="#333"/>
<text x="358" y="420.9" font-size="5.5" fill="#151515" stroke="#151515" stroke-width="0.14" text-anchor="middle">1.95</text>
<rect x="376.4" y="418.6" width="198" height="6.5" fill="#fff"/>
<polyline points="376.4,418.6 376.4,425.1" fill="none" stroke="#333" stroke-width="0.9"/>
<line x1="387.3" y1="418.6" x2="440.2" y2="418.6" stroke="#333" stroke-width="0.9" />
<line x1="450.4" y1="418.6" x2="521.6" y2="418.6" stroke="#333" stroke-width="0.9" />
<line x1="528.5" y1="419.1" x2="574.4" y2="419.1" stroke="#333" stroke-width="0.9" />
<polyline points="574.4,419.1 574.4,426 512,426" fill="none" stroke="#333" stroke-width="0.9"/>
<line x1="376.4" y1="424.9" x2="383.6" y2="424.9" stroke="#333" stroke-width="0.9" />
<line x1="387.6" y1="424.9" x2="507" y2="424.9" stroke="#333" stroke-width="0.9" />
<line x1="536" y1="414.75" x2="570" y2="414.75" stroke="#333" stroke-width="0.6" />
<line x1="528.75" y1="413.25" x2="595" y2="413.25" stroke="#333" stroke-width="0.8" />
<path d="M528.75 413.25l3 -0.9v1.8z M595 413.25l-3 -0.9v1.8z" fill="#333"/>
<text x="561" y="412.6" font-size="5.5" fill="#151515" stroke="#151515" stroke-width="0.14" text-anchor="middle">3.50</text>
<text x="569.4" y="418.2" font-size="5.28" fill="#151515" stroke="#151515" stroke-width="0.14" textLength="18" lengthAdjust="spacingAndGlyphs">REI 120</text>
<line x1="569" y1="419" x2="588.75" y2="419" stroke="#333" stroke-width="0.7" />
<polyline points="387.6,424.9 387.6,463 506,463" fill="none" stroke="#333" stroke-width="0.8"/>
<polyline points="397.6,424.9 397.6,453 506,453" fill="none" stroke="#333" stroke-width="0.8"/>
<polyline points="397.6,434.4 483,434.4 483,424.9" fill="none" stroke="#333" stroke-width="0.8"/>
<text x="432.4" y="446" font-size="5.94" fill="#151515" stroke="#151515" stroke-width="0.14" textLength="26.6" lengthAdjust="spacingAndGlyphs">ZONA BAR</text>
<text x="418" y="488.6" font-size="5.72" fill="#151515" stroke="#151515" stroke-width="0.14" textLength="26.3" lengthAdjust="spacingAndGlyphs">ZONA BAR</text>
<text x="446.3" y="488.6" font-size="4.84" fill="#151515" stroke="#151515" stroke-width="0.14" textLength="8.6" lengthAdjust="spacingAndGlyphs">con</text>
<text x="458" y="488.6" font-size="5.72" fill="#151515" stroke="#151515" stroke-width="0.14" textLength="24" lengthAdjust="spacingAndGlyphs">TAVOLINI</text>
<line x1="500.6" y1="426" x2="500.6" y2="507.6" stroke="#333" stroke-width="0.8" />
<path d="M500.6 426l-0.9 3h1.8z M500.6 507.6l-0.9 -3h1.8z" fill="#333"/>
<text x="500.2" y="471" font-size="5.28" fill="#151515" stroke="#151515" stroke-width="0.14" text-anchor="middle" transform="rotate(-90 500.2 471)">4.70</text>
<path d="M491 428A15 15 0 0 0 506 443" fill="none" stroke="#333" stroke-width="0.7" />
<line x1="491" y1="427.5" x2="506" y2="427.5" stroke="#333" stroke-width="0.6" />
<rect x="388" y="513.75" width="119.5" height="6.8" fill="#fff"/>
<line x1="388" y1="513.75" x2="437" y2="513.75" stroke="#333" stroke-width="0.9" />
<rect x="437" y="513.75" width="47.5" height="6.75" fill="#fff" stroke="#333" stroke-width="0.8"/>
<line x1="437" y1="516.315" x2="484.5" y2="516.315" stroke="#333" stroke-width="0.7" />
<line x1="437" y1="517.935" x2="484.5" y2="517.935" stroke="#333" stroke-width="0.7" />
<line x1="484.5" y1="513.75" x2="507.2" y2="513.75" stroke="#333" stroke-width="0.9" />
<line x1="387.3" y1="520.5" x2="437" y2="520.5" stroke="#333" stroke-width="1" />
<line x1="484.5" y1="520.5" x2="535.3" y2="520.5" stroke="#333" stroke-width="1" />
<line x1="388" y1="508" x2="505" y2="508" stroke="#333" stroke-width="0.8" />
<path d="M388 508l3 -0.9v1.8z M505 508l-3 -0.9v1.8z" fill="#333"/>
<text x="446.5" y="507.3" font-size="5.5" fill="#151515" stroke="#151515" stroke-width="0.14" text-anchor="middle">6.30</text>
<line x1="460.7" y1="510" x2="460.7" y2="533" stroke="#333" stroke-width="0.7" />
<text x="460.5" y="527.5" font-size="5.5" fill="#151515" stroke="#151515" stroke-width="0.14" text-anchor="middle" transform="rotate(-90 460.5 527.5)">2.50</text>
<text x="464.3" y="527.5" font-size="5.5" fill="#151515" stroke="#151515" stroke-width="0.14" text-anchor="middle" transform="rotate(-90 464.3 527.5)">2.50</text>
<rect x="507.2" y="442.5" width="5.6" height="71.5" fill="#fff" stroke="#333" stroke-width="0.9"/>
<line x1="512.8" y1="426" x2="512.8" y2="442.5" stroke="#333" stroke-width="0.9" />
<rect x="545.6" y="426" width="3.8" height="40" fill="#ccc" stroke="#333" stroke-width="0.8"/>
<rect x="512.8" y="464.4" width="76" height="2.9" fill="#999" stroke="#333" stroke-width="0.8"/>
<rect x="603.75" y="464.4" width="5.6" height="50" fill="#fff" stroke="#333" stroke-width="0.9"/>
<path d="M588.75 467.3A15 15 0 0 0 603.75 482.3" fill="none" stroke="#333" stroke-width="0.7" />
<line x1="512.8" y1="432.2" x2="545.6" y2="432.2" stroke="#333" stroke-width="0.8" />
<path d="M512.8 432.2l3 -0.9v1.8z M545.6 432.2l-3 -0.9v1.8z" fill="#333"/>
<text x="529.7" y="431.5" font-size="5.5" fill="#151515" stroke="#151515" stroke-width="0.14" text-anchor="middle">1.80</text>
<text x="513.75" y="437.4" font-size="5.5" fill="#151515" stroke="#151515" stroke-width="0.14" textLength="20" lengthAdjust="spacingAndGlyphs">Mq. 3.69</text>
<text x="513.75" y="443.4" font-size="5.5" fill="#151515" stroke="#151515" stroke-width="0.14" textLength="29" lengthAdjust="spacingAndGlyphs">MAGAZZINO</text>
<text x="513.75" y="449.6" font-size="5.5" fill="#151515" stroke="#151515" stroke-width="0.14" textLength="31" lengthAdjust="spacingAndGlyphs">ALIMENTARE</text>
<text x="513.75" y="455.6" font-size="5.5" fill="#151515" stroke="#151515" stroke-width="0.14" textLength="20" lengthAdjust="spacingAndGlyphs">PER BAR</text>
<line x1="556" y1="426.5" x2="556" y2="464.4" stroke="#333" stroke-width="0.8" />
<path d="M556 426.5l-0.9 3h1.8z M556 464.4l-0.9 -3h1.8z" fill="#333"/>
<text x="555.6" y="445.5" font-size="5.28" fill="#151515" stroke="#151515" stroke-width="0.14" text-anchor="middle" transform="rotate(-90 555.6 445.5)">2.05</text>
<line x1="549.4" y1="460" x2="609.4" y2="460" stroke="#333" stroke-width="0.8" />
<path d="M549.4 460l3 -0.9v1.8z M609.4 460l-3 -0.9v1.8z" fill="#333"/>
<text x="578.4" y="459.3" font-size="5.5" fill="#151515" stroke="#151515" stroke-width="0.14" text-anchor="middle">3.25</text>
<text x="544" y="486.6" font-size="5.72" fill="#151515" stroke="#151515" stroke-width="0.14" textLength="23.2" lengthAdjust="spacingAndGlyphs">Mq. 12.50</text>
<text x="535.3" y="493.1" font-size="5.72" fill="#151515" stroke="#151515" stroke-width="0.14" textLength="43.7" lengthAdjust="spacingAndGlyphs">ZONA LAVAGGIO</text>
<line x1="520.3" y1="467.5" x2="520.3" y2="513.5" stroke="#333" stroke-width="0.8" />
<path d="M520.3 467.5l-0.9 3h1.8z M520.3 513.5l-0.9 -3h1.8z" fill="#333"/>
<text x="519.9" y="490.5" font-size="5.28" fill="#151515" stroke="#151515" stroke-width="0.14" text-anchor="middle" transform="rotate(-90 519.9 490.5)">2.50</text>
<line x1="512.8" y1="507.75" x2="603.75" y2="507.75" stroke="#333" stroke-width="0.8" />
<path d="M512.8 507.75l3 -0.9v1.8z M603.75 507.75l-3 -0.9v1.8z" fill="#333"/>
<text x="559.7" y="507.1" font-size="5.5" fill="#151515" stroke="#151515" stroke-width="0.14" text-anchor="middle">5.00</text>
<rect x="512.8" y="514.25" width="120" height="6.8" fill="#fff"/>
<line x1="512.8" y1="514.25" x2="535.3" y2="514.25" stroke="#333" stroke-width="0.9" />
<rect x="535.3" y="514.25" width="47.200000000000045" height="6.850000000000023" fill="#fff" stroke="#333" stroke-width="0.8"/>
<line x1="535.3" y1="516.8530000000001" x2="582.5" y2="516.8530000000001" stroke="#333" stroke-width="0.7" />
<line x1="535.3" y1="518.4970000000001" x2="582.5" y2="518.4970000000001" stroke="#333" stroke-width="0.7" />
<line x1="582.5" y1="514.25" x2="603.75" y2="514.25" stroke="#333" stroke-width="0.9" />
<line x1="609.4" y1="514.25" x2="632.7" y2="514.25" stroke="#333" stroke-width="0.9" />
<line x1="582.5" y1="521.1" x2="632.7" y2="521.1" stroke="#333" stroke-width="1" />
<line x1="559" y1="510" x2="559" y2="533" stroke="#333" stroke-width="0.7" />
<text x="558.8" y="527.5" font-size="5.5" fill="#151515" stroke="#151515" stroke-width="0.14" text-anchor="middle" transform="rotate(-90 558.8 527.5)">2.50</text>
<text x="562.6" y="527.5" font-size="5.5" fill="#151515" stroke="#151515" stroke-width="0.14" text-anchor="middle" transform="rotate(-90 562.6 527.5)">2.50</text>
<circle cx="567" cy="519" r="1.2" fill="#111"/>
<line x1="567" y1="519" x2="586.2" y2="540" stroke="#333" stroke-width="0.7" />
<line x1="586.2" y1="540" x2="620" y2="540" stroke="#333" stroke-width="0.7" />
<text x="587.3" y="531.4" font-size="5.5" fill="#151515" stroke="#151515" stroke-width="0.14" textLength="23" lengthAdjust="spacingAndGlyphs">APRIBILE</text>
<text x="587.3" y="537.7" font-size="5.5" fill="#151515" stroke="#151515" stroke-width="0.14" textLength="32.7" lengthAdjust="spacingAndGlyphs">0.50 x 2.50 mt</text>
<rect x="696.5" y="354.3" width="12.9" height="6" fill="#fff" stroke="#333" stroke-width="0.9"/>
<rect x="605.4" y="358.5" width="104" height="3.2" fill="#fff" stroke="#333" stroke-width="0.9"/>
<rect x="697" y="355" width="11.9" height="5" fill="#fff"/>
<rect x="605.4" y="358.5" width="5.7" height="28.9" fill="#fff" stroke="#333" stroke-width="0.9"/>
<rect x="605.9" y="359" width="4.7" height="3" fill="#fff"/>
<rect x="611.1" y="384" width="32.5" height="3.4" fill="#fff" stroke="#333" stroke-width="0.8"/>
<rect x="641.7" y="378.4" width="1.9" height="8" fill="#fff" stroke="#333" stroke-width="0.7"/>
<rect x="626.7" y="362.6" width="16.5" height="1.8" fill="#999" stroke="#333" stroke-width="0.5"/>
<path d="M626.7 364A15 15 0 0 0 641.7 379" fill="none" stroke="#333" stroke-width="0.6" />
<text x="622.5" y="372" font-size="5.5" fill="#151515" stroke="#151515" stroke-width="0.14" textLength="9" lengthAdjust="spacingAndGlyphs">RIP</text>
<line x1="611.5" y1="381.7" x2="641.5" y2="381.7" stroke="#333" stroke-width="0.8" />
<path d="M611.5 381.7l3 -0.9v1.8z M641.5 381.7l-3 -0.9v1.8z" fill="#333"/>
<text x="626" y="379.8" font-size="5.5" fill="#151515" stroke="#151515" stroke-width="0.14" text-anchor="middle">1.60</text>
<line x1="612.9" y1="362" x2="612.9" y2="384" stroke="#333" stroke-width="0.8" />
<path d="M612.9 362l-0.9 3h1.8z M612.9 384l-0.9 -3h1.8z" fill="#333"/>
<text x="614.5" y="373" font-size="4.84" fill="#151515" stroke="#151515" stroke-width="0.14" text-anchor="middle" transform="rotate(-90 614.5 373)">1.25</text>
<line x1="643.6" y1="367" x2="702" y2="367" stroke="#333" stroke-width="0.8" />
<path d="M643.6 367l3 -0.9v1.8z M702 367l-3 -0.9v1.8z" fill="#333"/>
<text x="672.9" y="366.3" font-size="5.5" fill="#151515" stroke="#151515" stroke-width="0.14" text-anchor="middle">3.10</text>
<line x1="693.7" y1="362" x2="693.7" y2="513.5" stroke="#333" stroke-width="0.8" />
<path d="M693.7 362l-0.9 3h1.8z M693.7 513.5l-0.9 -3h1.8z" fill="#333"/>
<text x="693.3" y="438.5" font-size="5.28" fill="#151515" stroke="#151515" stroke-width="0.14" text-anchor="middle" transform="rotate(-90 693.3 438.5)">8.05</text>
<rect x="702" y="358.5" width="7.4" height="14.2" fill="#fff" stroke="#333" stroke-width="0.9"/>
<rect x="702" y="372.7" width="7.399999999999977" height="47.80000000000001" fill="#fff" stroke="#333" stroke-width="0.8"/>
<line x1="704.812" y1="372.7" x2="704.812" y2="420.5" stroke="#333" stroke-width="0.7" />
<line x1="706.588" y1="372.7" x2="706.588" y2="420.5" stroke="#333" stroke-width="0.7" />
<rect x="702" y="420.5" width="7.4" height="35.3" fill="#fff" stroke="#333" stroke-width="0.9"/>
<rect x="702" y="455.8" width="7.399999999999977" height="45.69999999999999" fill="#fff" stroke="#333" stroke-width="0.8"/>
<line x1="704.812" y1="455.8" x2="704.812" y2="501.5" stroke="#333" stroke-width="0.7" />
<line x1="706.588" y1="455.8" x2="706.588" y2="501.5" stroke="#333" stroke-width="0.7" />
<rect x="679.5" y="514.25" width="30" height="7" fill="#fff"/>
<rect x="702" y="501.5" width="7.4" height="19.5" fill="#fff"/>
<polyline points="679.5,514.25 679.5,521.25 709.4,521.25 709.4,501.5" fill="none" stroke="#333" stroke-width="0.9"/>
<polyline points="679.5,514.25 702,514.25 702,501.5" fill="none" stroke="#333" stroke-width="0.9"/>
<polygon points="595,409.6 612,409.6 612,426.2 593.6,426.2 593.6,413.2 595,413.2" fill="#fff" stroke="#333" stroke-width="0.9"/>
<path d="M596.3 387.6A11.5 9.6 0 0 0 619.3 387.6Z" fill="none" stroke="#333" stroke-width="0.7" />
<path d="M596.3 409.6A11.5 9.4 0 0 1 619.3 409.6Z" fill="none" stroke="#333" stroke-width="0.7" />
<line x1="607.8" y1="398" x2="607.8" y2="409.6" stroke="#333" stroke-width="0.7" />
<circle cx="613.75" cy="396" r="1.2" fill="#111"/>
<line x1="613.75" y1="396" x2="624" y2="400.4" stroke="#333" stroke-width="0.7" />
<line x1="624" y1="400.4" x2="666" y2="400.4" stroke="#333" stroke-width="0.7" />
<text x="624" y="398.6" font-size="5.83" fill="#151515" stroke="#151515" stroke-width="0.14" textLength="45.6" lengthAdjust="spacingAndGlyphs">PORTA IGNIFUGA</text>
<text x="607" y="396" font-size="3.96" fill="#151515" stroke="#151515" stroke-width="0.14" text-anchor="middle" transform="rotate(-90 607 396)">0.90</text>
<polyline points="632.7,514.25 632.7,517.5 641.7,517.5 641.7,532.2 644.7,532.2" fill="none" stroke="#333" stroke-width="1"/>
<polyline points="609.4,514.25 632.7,514.25" fill="none" stroke="#333" stroke-width="0.9"/>
<polyline points="632.7,521.1 632.7,517.5" fill="none" stroke="#333" stroke-width="0.9"/>
<polyline points="679.5,514.25 679.5,517.5 669.3,517.5 669.3,532.2 666.3,532.2" fill="none" stroke="#333" stroke-width="1"/>
<path d="M642.7 532A13.5 13.5 0 0 0 656.2 519" fill="none" stroke="#333" stroke-width="0.6" />
<path d="M669.7 532A13.5 13.5 0 0 1 656.2 519" fill="none" stroke="#333" stroke-width="0.6" />
<line x1="656.2" y1="504" x2="656.2" y2="543" stroke="#333" stroke-width="0.7" />
<text x="656" y="510" font-size="5.28" fill="#151515" stroke="#151515" stroke-width="0.14" text-anchor="middle" transform="rotate(-90 656 510)">1.50</text>
<text x="660" y="510" font-size="5.28" fill="#151515" stroke="#151515" stroke-width="0.14" text-anchor="middle" transform="rotate(-90 660 510)">2.10</text>
<text x="656" y="536" font-size="5.28" fill="#151515" stroke="#151515" stroke-width="0.14" text-anchor="middle" transform="rotate(-90 656 536)">2.50</text>
<text x="660" y="536" font-size="5.28" fill="#151515" stroke="#151515" stroke-width="0.14" text-anchor="middle" transform="rotate(-90 660 536)">2.50</text>
<circle cx="656" cy="526.5" r="1.2" fill="#111"/>
<polyline points="656,526.5 676.5,547.5 707.2,547.5" fill="none" stroke="#333" stroke-width="0.7"/>
<text x="678" y="544.5" font-size="5.72" fill="#151515" stroke="#151515" stroke-width="0.14" textLength="23.2" lengthAdjust="spacingAndGlyphs">APRIBILE</text>
<line x1="609.4" y1="500.25" x2="702" y2="500.25" stroke="#333" stroke-width="0.8" />
<path d="M609.4 500.25l3 -0.9v1.8z M702 500.25l-3 -0.9v1.8z" fill="#333"/>
<text x="656.2" y="499.6" font-size="5.5" fill="#151515" stroke="#151515" stroke-width="0.14" text-anchor="middle">4.90</text>
<text x="633.75" y="432.5" font-size="5.72" fill="#151515" stroke="#151515" stroke-width="0.14" textLength="23.75" lengthAdjust="spacingAndGlyphs">Mq. 43.06</text>
<text x="635.5" y="439.5" font-size="5.72" fill="#151515" stroke="#151515" stroke-width="0.14" textLength="19.5" lengthAdjust="spacingAndGlyphs">CUCINA</text>
<text x="632.5" y="446.25" font-size="5.72" fill="#151515" stroke="#151515" stroke-width="0.14" textLength="27" lengthAdjust="spacingAndGlyphs">A  Mq. 5.65</text>
<text x="633" y="453" font-size="5.72" fill="#151515" stroke="#151515" stroke-width="0.14" textLength="27.5" lengthAdjust="spacingAndGlyphs">I  Mq. 16.25</text>
<text x="632.5" y="463.75" font-size="5.72" fill="#151515" stroke="#151515" stroke-width="0.14" textLength="23.75" lengthAdjust="spacingAndGlyphs">H=3.30mt.</text>
<text x="726.25" y="369.5" font-size="5.72" fill="#151515" stroke="#151515" stroke-width="0.14" textLength="24" lengthAdjust="spacingAndGlyphs">APRIBILE</text>
<text x="726.25" y="375.5" font-size="5.72" fill="#151515" stroke="#151515" stroke-width="0.14" textLength="34" lengthAdjust="spacingAndGlyphs">0.50 x 2.50 mt</text>
<line x1="726" y1="377.0" x2="760" y2="377.0" stroke="#333" stroke-width="0.7" />
<line x1="706.25" y1="384.25" x2="726" y2="377.0" stroke="#333" stroke-width="0.7" />
<circle cx="706.25" cy="384.25" r="1.2" fill="#111"/>
<text x="726.25" y="449.5" font-size="5.72" fill="#151515" stroke="#151515" stroke-width="0.14" textLength="24" lengthAdjust="spacingAndGlyphs">APRIBILE</text>
<text x="726.25" y="455.5" font-size="5.72" fill="#151515" stroke="#151515" stroke-width="0.14" textLength="34" lengthAdjust="spacingAndGlyphs">0.50 x 2.50 mt</text>
<line x1="726" y1="457.0" x2="760" y2="457.0" stroke="#333" stroke-width="0.7" />
<line x1="706.25" y1="465" x2="726" y2="457.0" stroke="#333" stroke-width="0.7" />
<circle cx="706.25" cy="465" r="1.2" fill="#111"/>
<line x1="698.75" y1="397.5" x2="720" y2="397.5" stroke="#333" stroke-width="0.7" />
<text x="710" y="396.25" font-size="5.28" fill="#151515" stroke="#151515" stroke-width="0.14" textLength="11" lengthAdjust="spacingAndGlyphs">2.50</text>
<text x="710" y="401.75" font-size="5.28" fill="#151515" stroke="#151515" stroke-width="0.14" textLength="11" lengthAdjust="spacingAndGlyphs">1.50</text>
<line x1="698.75" y1="479.5" x2="720" y2="479.5" stroke="#333" stroke-width="0.7" />
<text x="710" y="478" font-size="5.28" fill="#151515" stroke="#151515" stroke-width="0.14" textLength="11" lengthAdjust="spacingAndGlyphs">2.50</text>
<text x="710" y="483.2" font-size="5.28" fill="#151515" stroke="#151515" stroke-width="0.14" textLength="11" lengthAdjust="spacingAndGlyphs">2.50</text>
<text x="747.9" y="347.9" font-size="6.38" fill="#151515" stroke="#151515" stroke-width="0.14" textLength="55" lengthAdjust="spacingAndGlyphs" transform="rotate(-90 747.9 347.9)">CORTE IN PROPRIETA'</text>
</g>
</svg>
</body></html>
